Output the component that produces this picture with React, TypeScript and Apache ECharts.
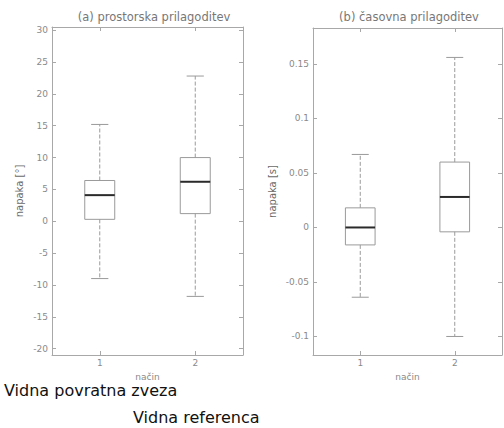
import React, { useEffect, useRef } from "react";
import * as echarts from "echarts";

// [x, lowerWhisker, Q1, median, Q3, upperWhisker]
const methods = [1, 2];
const spatialBoxes = [
  [1, -9.0, 0.3, 4.1, 6.4, 15.2],
  [2, -11.8, 1.2, 6.2, 10.0, 22.8],
];
const temporalBoxes = [
  [1, -0.064, -0.016, 0.0, 0.018, 0.067],
  [2, -0.1, -0.004, 0.028, 0.06, 0.156],
];
const spatialTicks = [-20, -15, -10, -5, 0, 5, 10, 15, 20, 25, 30];
const temporalTicks = [-0.1, -0.05, 0, 0.05, 0.1, 0.15];

const AX = "#a8a8a8";
const TXT = "#8a8a8a";
const BOXHALF = 0.157;
const CAPHALF = 0.09;

function renderBox(params: any, api: any) {
  const x = api.value(0);
  const lw = api.value(1), q1 = api.value(2), md = api.value(3), q3 = api.value(4), uw = api.value(5);
  const L = (v: number) => api.coord([x - BOXHALF, v]);
  const R = (v: number) => api.coord([x + BOXHALF, v]);
  const C = (v: number) => api.coord([x, v]);
  const CL = (v: number) => api.coord([x - CAPHALF, v]);
  const CR = (v: number) => api.coord([x + CAPHALF, v]);
  const boxStyle = { stroke: "#9a9a9a", lineWidth: 1, fill: "none" };
  const whiskStyle = { stroke: "#9a9a9a", lineWidth: 1, lineDash: [4, 2] };
  const capStyle = { stroke: "#9a9a9a", lineWidth: 1 };
  return {
    type: "group",
    children: [
      { type: "polygon", shape: { points: [L(q1), R(q1), R(q3), L(q3)] }, style: boxStyle },
      { type: "line", shape: { x1: L(md)[0], y1: L(md)[1], x2: R(md)[0], y2: R(md)[1] }, style: { stroke: "#2a2a2a", lineWidth: 2 } },
      { type: "line", shape: { x1: C(q3)[0], y1: C(q3)[1], x2: C(uw)[0], y2: C(uw)[1] }, style: whiskStyle },
      { type: "line", shape: { x1: C(q1)[0], y1: C(q1)[1], x2: C(lw)[0], y2: C(lw)[1] }, style: whiskStyle },
      { type: "line", shape: { x1: CL(uw)[0], y1: CL(uw)[1], x2: CR(uw)[0], y2: CR(uw)[1] }, style: capStyle },
      { type: "line", shape: { x1: CL(lw)[0], y1: CL(lw)[1], x2: CR(lw)[0], y2: CR(lw)[1] }, style: capStyle },
    ],
  };
}

function xAxes(gridIndex: number) {
  const common = {
    type: "value",
    gridIndex,
    min: 0.5,
    max: 2.5,
    splitLine: { show: false },
    axisLine: { show: true, onZero: false, lineStyle: { color: AX } },
    axisTick: { show: true, inside: true, length: 4, customValues: methods, lineStyle: { color: AX } },
  };
  return [
    {
      ...common,
      position: "bottom",
      name: "način",
      nameLocation: "middle",
      nameGap: 6,
      nameTextStyle: { color: TXT, fontSize: 9, lineHeight: 10, fontFamily: "DejaVu Sans" },
      axisLabel: { customValues: methods, color: TXT, fontSize: 9, margin: 3, fontFamily: "DejaVu Sans" },
    },
    { ...common, position: "top", axisLabel: { show: false } },
  ];
}

function yAxes(gridIndex: number, min: number, max: number, ticks: number[], name: string, nameGap: number) {
  const common = {
    type: "value",
    gridIndex,
    min,
    max,
    splitLine: { show: false },
    axisLine: { show: true, onZero: false, lineStyle: { color: AX } },
    axisTick: { show: true, inside: true, length: 4, customValues: ticks, lineStyle: { color: AX } },
  };
  return [
    {
      ...common,
      position: "left",
      name,
      nameLocation: "middle",
      nameGap,
      nameRotate: 90,
      nameTextStyle: { color: "#6a6a6a", fontSize: 10, fontFamily: "DejaVu Sans" },
      axisLabel: { customValues: ticks, color: TXT, fontSize: 9, margin: 4, fontFamily: "DejaVu Sans" },
    },
    { ...common, position: "right", axisLabel: { show: false } },
  ];
}

export default function App() {
  const ref = useRef<HTMLDivElement>(null);
  useEffect(() => {
    const chart = echarts.init(ref.current!, null, { renderer: "svg" });
    const titleStyle = { color: "#777", fontSize: 11.5, fontWeight: "normal", fontFamily: "DejaVu Sans" };
    chart.setOption({
      animation: false,
      backgroundColor: "#ffffff",
      title: [
        { text: "(a) prostorska prilagoditev", left: 149, top: 6, textAlign: "center", textStyle: titleStyle },
        { text: "(b) časovna prilagoditev", left: 404, top: 6, textAlign: "center", textStyle: titleStyle },
      ],
      grid: [
        { left: 52, top: 27, width: 191, height: 328 },
        { left: 313, top: 28, width: 189, height: 327 },
      ],
      xAxis: [...xAxes(0), ...xAxes(1)],
      yAxis: [
        ...yAxes(0, -21, 30.5, spatialTicks, "napaka [°]", 28),
        ...yAxes(1, -0.117, 0.183, temporalTicks, "napaka [s]", 36),
      ],
      series: [
        { type: "custom", xAxisIndex: 0, yAxisIndex: 0, renderItem: renderBox, encode: { x: 0, y: [1, 2, 3, 4, 5] }, data: spatialBoxes },
        { type: "custom", xAxisIndex: 2, yAxisIndex: 2, renderItem: renderBox, encode: { x: 0, y: [1, 2, 3, 4, 5] }, data: temporalBoxes },
      ],
      graphic: [
        { type: "text", left: 4, top: 382, style: { text: "Vidna povratna zveza", fill: "#111", font: "16px 'DejaVu Sans'" } },
        { type: "text", left: 133, top: 409, style: { text: "Vidna referenca", fill: "#111", font: "16px 'DejaVu Sans'" } },
      ],
    });
    return () => chart.dispose();
  }, []);
  return <div ref={ref} style={{ width: 504, height: 428, position: "absolute", left: 0, top: 0 }} />;
}
